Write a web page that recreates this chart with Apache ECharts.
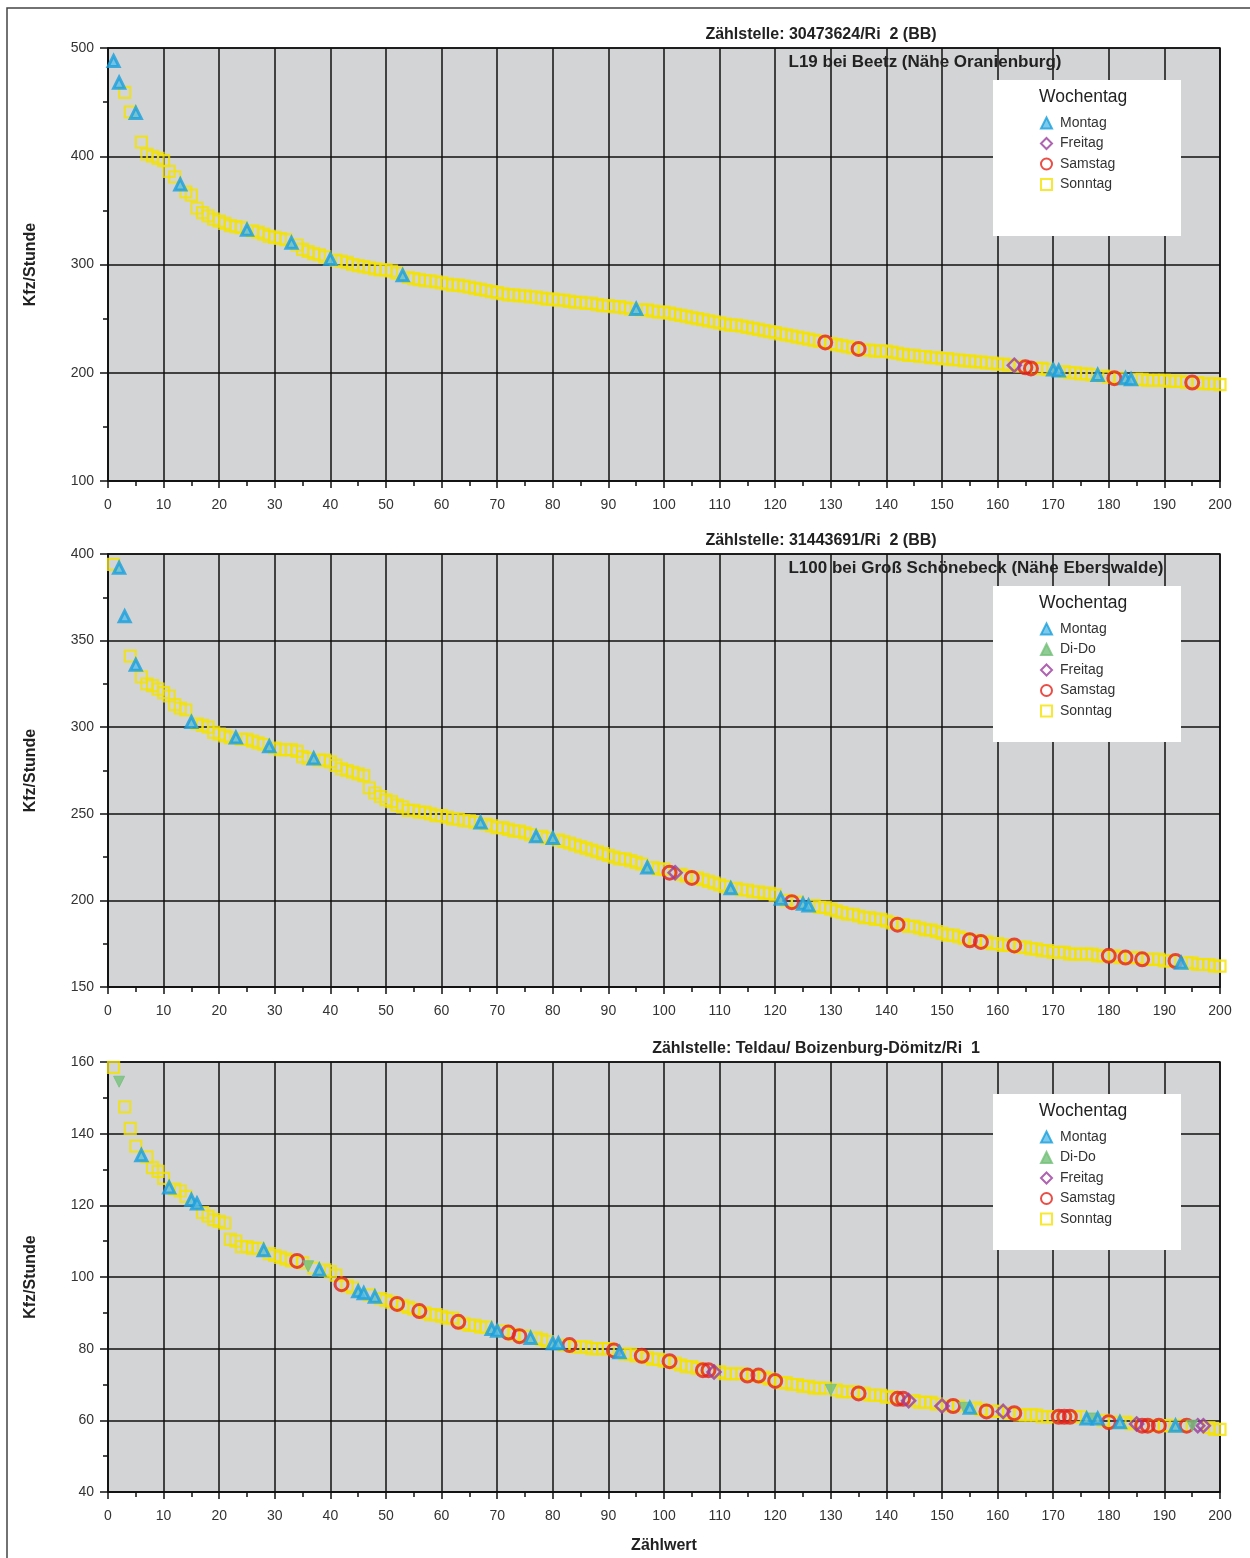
<!DOCTYPE html>
<html lang="de">
<head>
  <meta charset="UTF-8">
  <title>Zählwerte Kfz/Stunde</title>
  <style>html, body { margin: 0; padding: 0; background: #fff; }</style>
</head>
<body>
  <div id="chart" style="width: 1250px; height: 1558px;"></div>
</body>

<script src="https://cdn.jsdelivr.net/npm/echarts@6/dist/echarts.min.js"></script>

<script>
  // Kfz/Stunde sortiert nach Zählwert 1..200
  const beetz = [
    488, 468, 459, 441, 440, 413, 402, 400, 398, 396,
    386, 381, 374, 367, 364, 352, 348, 345, 342, 340,
    338, 336, 335, 334, 332, 331, 330, 328, 326, 325,
    324, 323, 320, 318, 314, 312, 310, 309, 307, 305,
    304, 303, 302, 300, 299, 298, 297, 296, 295, 295,
    294, 292, 290, 288, 287, 286, 285, 285, 284, 283,
    282, 281, 281, 280, 279, 278, 277, 276, 275, 274,
    273, 272, 272, 271, 271, 270, 270, 269, 268, 268,
    267, 267, 266, 265, 265, 264, 264, 263, 262, 262,
    261, 261, 260, 259, 259, 258, 258, 257, 256, 256,
    255, 254, 253, 252, 251, 250, 249, 248, 247, 246,
    245, 244, 244, 243, 242, 241, 240, 239, 238, 237,
    236, 235, 234, 233, 232, 231, 230, 229, 228, 227,
    226, 225, 224, 223, 222, 221, 221, 220, 220, 220,
    219, 218, 217, 216, 216, 215, 215, 214, 214, 213,
    213, 212, 212, 211, 211, 210, 210, 209, 209, 208,
    208, 207, 207, 206, 205, 204, 204, 204, 203, 203,
    202, 201, 200, 200, 199, 199, 198, 198, 197, 196,
    195, 195, 195, 194, 194, 194, 193, 193, 193, 193,
    192, 192, 192, 191, 191, 191, 190, 190, 190, 189
  ];
  // M = Montag, D = Di-Do, F = Freitag, A = Samstag, S = Sonntag
  const beetzTag = [
    'MMSSMSSSSS', 'SSMSSSSSSS', 'SSSSMSSSSS', 'SSMSSSSSSM', 'SSSSSSSSSS',
    'SSMSSSSSSS', 'SSSSSSSSSS', 'SSSSSSSSSS', 'SSSSSSSSSS', 'SSSSMSSSSS',
    'SSSSSSSSSS', 'SSSSSSSSSS', 'SSSSSSSSAS', 'SSSSASSSSS', 'SSSSSSSSSS',
    'SSSSSSSSSS', 'SSFSAASSSM', 'MSSSSSSMSS', 'ASMMSSSSSS', 'SSSSASSSSS'
  ].join('');

  const schoenebeck = [
    394, 392, 364, 341, 336, 329, 325, 324, 322, 320,
    318, 313, 311, 310, 303, 302, 301, 300, 297, 296,
    295, 294, 294, 293, 293, 292, 291, 290, 289, 288,
    287, 287, 287, 286, 283, 282, 282, 281, 281, 280,
    278, 276, 275, 274, 273, 272, 265, 262, 260, 258,
    257, 255, 254, 252, 252, 251, 251, 250, 249, 249,
    248, 247, 247, 246, 246, 245, 245, 244, 243, 242,
    242, 241, 240, 240, 239, 238, 237, 237, 236, 236,
    235, 234, 233, 232, 231, 230, 229, 228, 227, 226,
    225, 224, 224, 223, 222, 221, 219, 219, 218, 218,
    216, 216, 215, 214, 213, 213, 212, 211, 210, 209,
    208, 207, 207, 206, 206, 205, 205, 204, 204, 203,
    201, 200, 199, 199, 198, 197, 197, 196, 196, 195,
    194, 193, 192, 192, 191, 190, 190, 189, 189, 188,
    187, 186, 186, 185, 185, 184, 183, 183, 182, 181,
    180, 180, 179, 178, 177, 177, 176, 176, 175, 175,
    174, 174, 174, 173, 173, 172, 172, 171, 171, 170,
    170, 170, 169, 169, 169, 169, 169, 168, 168, 168,
    168, 167, 167, 167, 167, 166, 166, 166, 166, 165,
    165, 165, 164, 164, 164, 163, 163, 163, 162, 162
  ];
  const schoenebeckTag = [
    'SMMSMSSSSS', 'SSSSMSSSSS', 'SSMSSSSSMS', 'SSSSSSMSSS', 'SSSSSSSSSS',
    'SSSSSSSSSS', 'SSSSSSMSSS', 'SSSSSSMSSM', 'SSSSSSSSSS', 'SSSSSSMSSS',
    'AFSSASSSSS', 'SMSSSSSSSS', 'MSASMMSSSS', 'SSSSSSSSSS', 'SASSSSSSSS',
    'SSSSASASSS', 'SSASSSSSSS', 'SSSSSSSSSA', 'SSASSASSSS', 'SAMSSSSSSS'
  ].join('');

  const teldau = [
    158.5, 154.5, 147.5, 141.5, 136.5, 134, 133.5, 130.5, 129.5, 127.5,
    125, 124.5, 124, 122.5, 121.5, 120.5, 118, 117, 116, 115.5,
    115, 110.5, 110, 108.5, 108.5, 108, 108, 107.5, 106.5, 106,
    105.5, 105, 104.5, 104.5, 104, 103, 102.5, 102, 102, 101.5,
    100.5, 98, 97.5, 97, 96, 95.5, 95, 94.5, 94, 93.5,
    93, 92.5, 92, 91.5, 91, 90.5, 90, 89.5, 89.5, 89,
    88.5, 88.5, 87.5, 87, 86.5, 86.5, 86, 86, 85.5, 85,
    85, 84.5, 84, 83.5, 83.5, 83, 83, 82.5, 82, 81.5,
    81.5, 81, 81, 80.5, 80.5, 80.5, 80, 80, 80, 80,
    79.5, 79, 78.5, 78.5, 78, 78, 77.5, 77, 77, 76.5,
    76.5, 76, 75.5, 75, 75, 74.5, 74, 74, 73.5, 73.5,
    73, 73, 73, 73, 72.5, 72.5, 72.5, 72, 71.5, 71,
    70.5, 70.5, 70, 70, 69.5, 69.5, 69, 69, 69, 68.5,
    68.5, 68, 68, 68, 67.5, 67.5, 67, 67, 67, 66.5,
    66.5, 66, 66, 65.5, 65.5, 65, 65, 65, 64.5, 64,
    64, 64, 64, 63.5, 63.5, 63.5, 63, 62.5, 62.5, 62.5,
    62.5, 62, 62, 61.5, 61.5, 61.5, 61.5, 61, 61, 61,
    61, 61, 61, 61, 61, 60.5, 60.5, 60.5, 60, 59.5,
    59.5, 59.5, 59.5, 59, 59, 58.5, 58.5, 58.5, 58.5, 58.5,
    58.5, 58.5, 58.5, 58.5, 58.5, 58.5, 58.5, 58, 57.5, 57.5
  ];
  const teldauTag = [
    'SDSSSMSSSS', 'MSSSMMSSSS', 'SSSSSSSMSS', 'SSSASDSMSS', 'SASSMMSMSS',
    'SASSSASSSS', 'SSASSSSSMM', 'SASASMSSSM', 'MSASSSSSSS', 'AMSSSASSSS',
    'ASSSSSAAFS', 'SSSSASASSA', 'SSSSSSSSSD', 'SSSSASSSSS', 'SAAFSSSSSF',
    'SASDMSSASS', 'FSASSSSSSS', 'AAASSMDMSA', 'SMSSFAASAS', 'SMSADFFSSS'
  ].join('');

  const titles = [
    'Zählstelle: 30473624/Ri  2 (BB)',
    'Zählstelle: 31443691/Ri  2 (BB)',
    'Zählstelle: Teldau/ Boizenburg-Dömitz/Ri  1'
  ];
  const orte = [
    'L19 bei Beetz (Nähe Oranienburg)',
    'L100 bei Groß Schönebeck (Nähe Eberswalde)',
    ''
  ];
  const yRanges = [[100, 500, 100], [150, 400, 50], [40, 160, 20]];
  const legendData = [
    ['Montag', 'Freitag', 'Samstag', 'Sonntag'],
    ['Montag', 'Di-Do', 'Freitag', 'Samstag', 'Sonntag'],
    ['Montag', 'Di-Do', 'Freitag', 'Samstag', 'Sonntag']
  ];

  const panels = [
    { values: beetz, tage: beetzTag },
    { values: schoenebeck, tage: schoenebeckTag },
    { values: teldau, tage: teldauTag }
  ];

  const gridTops = [48, 554, 1062];
  const gridHeights = [433, 433, 430];
  const titleX = [821, 821, 816];
  const orteX = [925, 976, 0];
  const font = '"Liberation Sans", Arial, Helvetica, sans-serif';

  const tagStyles = {
    S: { name: 'Sonntag', symbol: 'rect', size: 11, style: { color: 'rgba(0,0,0,0)', borderColor: '#f4e200', borderWidth: 2.2 } },
    A: { name: 'Samstag', symbol: 'circle', size: 13, style: { color: 'rgba(0,0,0,0)', borderColor: '#e32219', borderWidth: 3 } },
    F: { name: 'Freitag', symbol: 'diamond', size: 13, style: { color: 'rgba(0,0,0,0)', borderColor: '#9a3d9c', borderWidth: 2.5 } },
    D: { name: 'Di-Do', symbol: 'triangle', size: 11, rotate: 180, style: { color: '#74c07a', borderColor: '#74c07a', borderWidth: 1 } },
    M: { name: 'Montag', symbol: 'triangle', size: 11, style: { color: '#5dbde8', borderColor: '#1a9fdb', borderWidth: 3 } }
  };
  const order = ['S', 'A', 'F', 'D', 'M'];

  const grids = [], xAxes = [], yAxes = [], series = [], legends = [], graphics = [];

  panels.forEach(function (p, k) {
    grids.push({
      left: 108, right: 30, top: gridTops[k], height: gridHeights[k],
      show: true, backgroundColor: '#d3d4d6', borderColor: '#111', borderWidth: 1.5
    });
    xAxes.push({
      gridIndex: k, type: 'value', min: 0, max: 200, interval: 10,
      name: k === 2 ? 'Zählwert' : '', nameLocation: 'middle', nameGap: 46,
      nameTextStyle: { fontFamily: font, fontSize: 16, fontWeight: 'bold', color: '#222' },
      axisLine: { lineStyle: { color: '#111', width: 1.5 } },
      axisTick: { length: 7, lineStyle: { color: '#111', width: 1.5 } },
      minorTick: { show: true, splitNumber: 2, length: 5, lineStyle: { color: '#111', width: 1.5 } },
      axisLabel: { margin: 17, fontFamily: font, fontSize: 14, color: '#333' },
      splitLine: { show: true, lineStyle: { color: '#111', width: 1.5 } }
    });
    const r = yRanges[k];
    yAxes.push({
      gridIndex: k, type: 'value', min: r[0], max: r[1], interval: r[2],
      name: 'Kfz/Stunde', nameLocation: 'middle', nameGap: 69, nameRotate: 90,
      nameTextStyle: { fontFamily: font, fontSize: 16, fontWeight: 'bold', color: '#222' },
      axisLine: { show: true, lineStyle: { color: '#111', width: 1.5 } },
      axisTick: { show: true, length: 8, lineStyle: { color: '#111', width: 1.5 } },
      minorTick: { show: true, splitNumber: 2, length: 5, lineStyle: { color: '#111', width: 1.5 } },
      axisLabel: { margin: 14, fontFamily: font, fontSize: 14, color: '#333' },
      splitLine: { show: true, lineStyle: { color: '#111', width: 1.5 } }
    });

    order.forEach(function (code) {
      const t = tagStyles[code];
      const data = [];
      p.values.forEach(function (v, i) {
        if (p.tage[i] === code) data.push([i + 1, v]);
      });
      if (!data.length) return;
      series.push({
        name: t.name, type: 'scatter', xAxisIndex: k, yAxisIndex: k,
        symbol: t.symbol, symbolSize: t.size, symbolRotate: t.rotate || 0,
        itemStyle: t.style, data: data, z: 3
      });
    });

    const top = gridTops[k];
    const boxTop = top + 32;
    graphics.push({
      type: 'text', x: titleX[k], y: top - 13, z: 10,
      style: { text: titles[k], align: 'center', verticalAlign: 'middle', font: 'bold 16px ' + font, fill: '#222' }
    });
    if (orte[k]) {
      graphics.push({
        type: 'text', x: orteX[k], y: top + 14, z: 10,
        style: { text: orte[k], align: 'center', verticalAlign: 'middle', font: 'bold 17px ' + font, fill: '#222' }
      });
    }
    graphics.push({
      type: 'rect', shape: { x: 993, y: boxTop, width: 188, height: 156 }, z: 5,
      style: { fill: '#fff' }
    });
    graphics.push({
      type: 'text', x: 1039, y: boxTop + 17, z: 10,
      style: { text: 'Wochentag', verticalAlign: 'middle', font: '17.5px ' + font, fill: '#222' }
    });
    legends.push({
      data: legendData[k], orient: 'vertical', left: 1035, top: boxTop + 31,
      itemWidth: 11, itemHeight: 11, itemGap: 6.5, selectedMode: false, z: 12,
      textStyle: { fontFamily: font, fontSize: 14, color: '#333', padding: [0, 0, 0, 3] }
    });
  });

  // Rahmen der gescannten Seite
  graphics.push({
    type: 'polyline', shape: { points: [[7, 1558], [7, 8], [1250, 8]] }, z: 10,
    style: { stroke: '#444', lineWidth: 1.5, fill: null }
  });

  const myChart = echarts.init(document.getElementById('chart'));
  myChart.setOption({
    animation: false,
    backgroundColor: '#fff',
    grid: grids,
    xAxis: xAxes,
    yAxis: yAxes,
    legend: legends,
    graphic: graphics,
    series: series
  });
</script>
</html>
